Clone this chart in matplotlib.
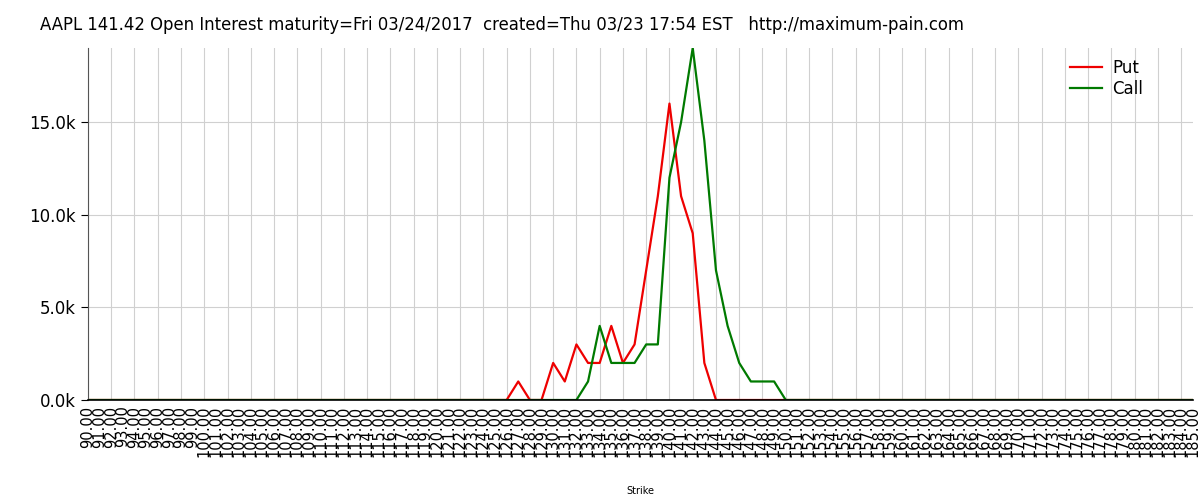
import matplotlib
matplotlib.use("Agg")
import matplotlib.pyplot as plt
from matplotlib.ticker import FuncFormatter, MultipleLocator

# strikes 90..185, open interest per strike
strikes = list(range(90, 186))
put_oi = {127: 1000, 130: 2000, 131: 1000, 132: 3000, 133: 2000, 134: 2000,
          135: 4000, 136: 2000, 137: 3000, 138: 7000, 139: 11000, 140: 16000,
          141: 11000, 142: 9000, 143: 2000}
call_oi = {133: 1000, 134: 4000, 135: 2000, 136: 2000, 137: 2000, 138: 3000,
           139: 3000, 140: 12000, 141: 15000, 142: 19000, 143: 14000, 144: 7000,
           145: 4000, 146: 2000, 147: 1000, 148: 1000, 149: 1000}
puts = [put_oi.get(s, 0) for s in strikes]
calls = [call_oi.get(s, 0) for s in strikes]
tick_labels = ["%.2f" % s for s in strikes]

title = ("AAPL 141.42 Open Interest maturity=Fri 03/24/2017  "
         "created=Thu 03/23 17:54 EST   http://maximum-pain.com")

fig = plt.figure(figsize=(12, 5), dpi=100)
ax = fig.add_axes([0.0733, 0.2, 0.9207, 0.704])

ax.plot(strikes, puts, color="#ee0000", lw=1.6, label="Put")
ax.plot(strikes, calls, color="#007a00", lw=1.6, label="Call")

ax.set_xlim(strikes[0], strikes[-1])
ax.set_ylim(0, max(max(puts), max(calls)))

ax.set_xticks(strikes)
ax.set_xticklabels(tick_labels, rotation=90, fontsize=10.5)
ax.tick_params(axis="x", length=0, pad=4)
ax.tick_params(axis="y", length=5, labelsize=12, width=0.8)
ax.yaxis.set_major_locator(MultipleLocator(5000))
ax.yaxis.set_major_formatter(FuncFormatter(lambda v, p: "%.1fk" % (v / 1000)))

# vertical grid every 2 strikes
for s in strikes[::2]:
    ax.axvline(s, color="#d0d0d0", lw=0.8, zorder=0)
ax.grid(axis="y", color="#d0d0d0", lw=0.8)
ax.set_axisbelow(True)

for side in ["top", "right"]:
    ax.spines[side].set_visible(False)
ax.spines["left"].set_color("#555555")
ax.spines["left"].set_linewidth(0.8)
ax.spines["bottom"].set_color("black")
ax.spines["bottom"].set_linewidth(1.2)

ax.set_xlabel("Strike", fontsize=7)
ax.xaxis.set_label_coords(0.5, -0.245)

ax.legend(loc="upper right", frameon=False, fontsize=12, handlelength=1.9,
          handletextpad=0.6, borderaxespad=0.2, labelspacing=0.2,
          bbox_to_anchor=(0.964, 0.998))

fig.text(0.033, 0.95, title, fontsize=11.9, va="center", ha="left")

fig.savefig("out.png", dpi=100)
